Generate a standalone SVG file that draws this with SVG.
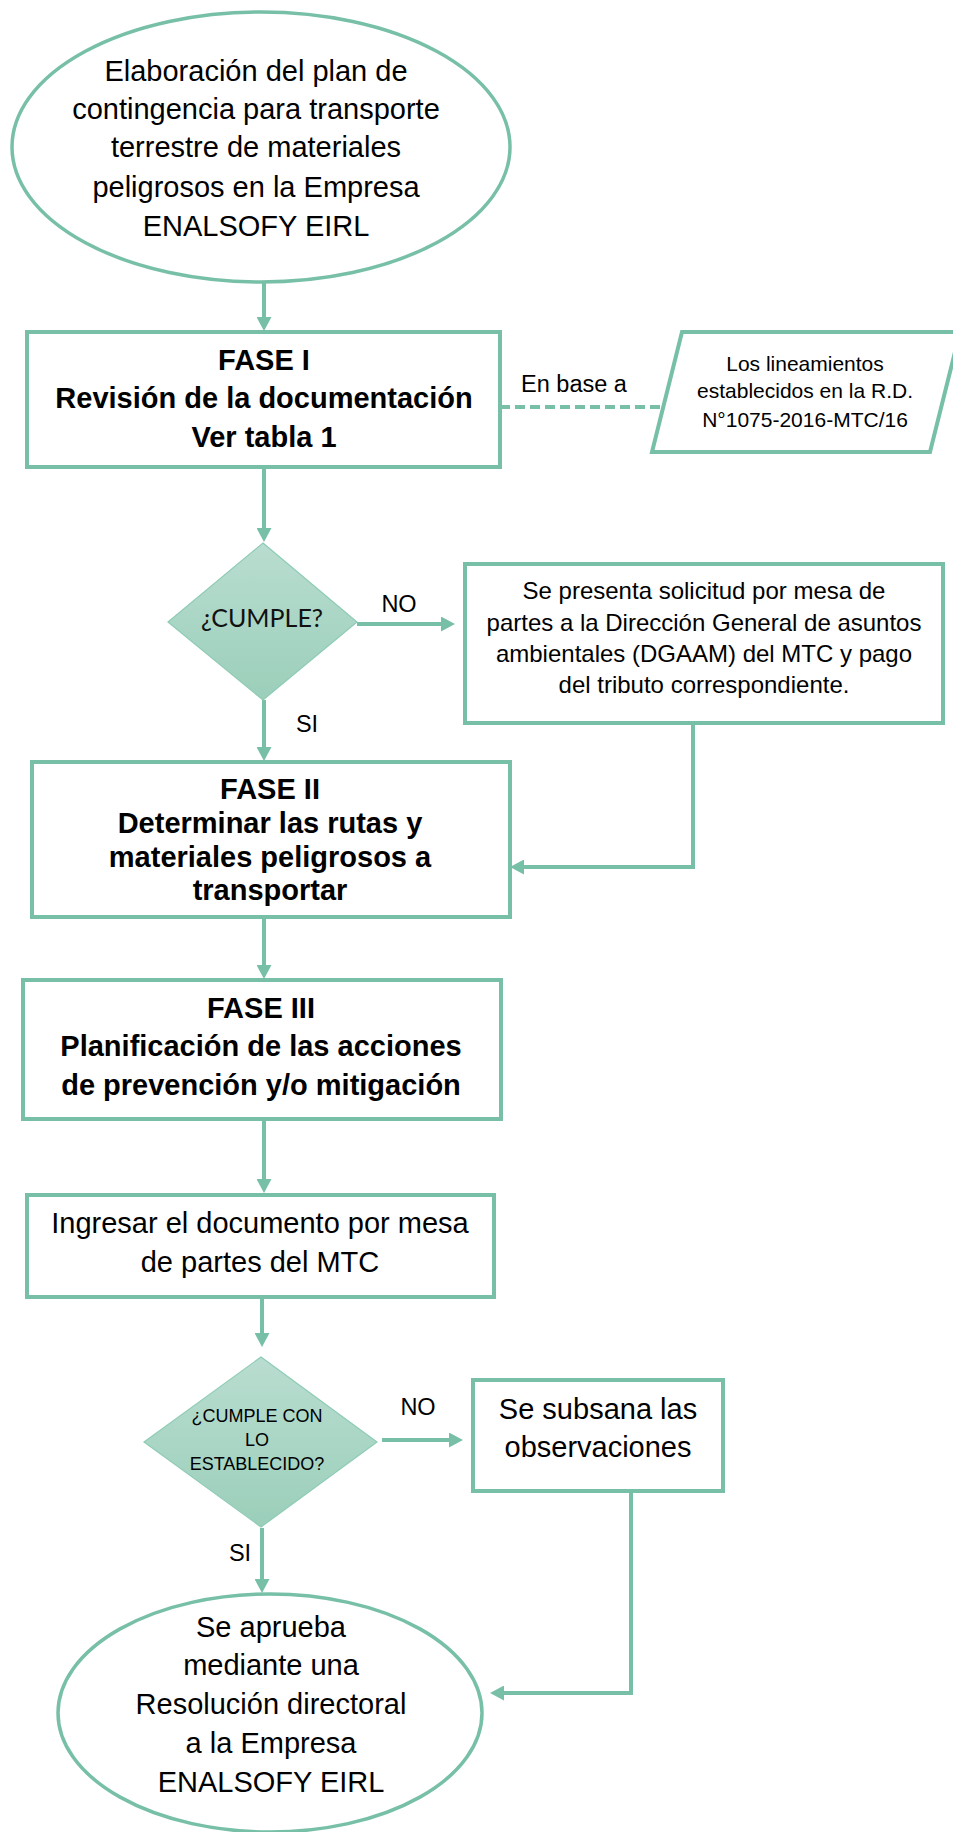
<svg xmlns="http://www.w3.org/2000/svg" width="953" height="1832" viewBox="0 0 953 1832">
<style>
.shape{fill:#ffffff;stroke:#77c0a7;stroke-width:4}
.ell{fill:#ffffff;stroke:#77c0a7;stroke-width:3.5}
.dia{fill:url(#dg);stroke:#8ecbb5;stroke-width:1.2}
.conn{fill:none;stroke:#77c0a7;stroke-width:4}
.dash{fill:none;stroke:#77c0a7;stroke-width:4;stroke-dasharray:10 5}
.t{font-family:"Liberation Sans",Arial,sans-serif;fill:#000;text-anchor:middle}
.r29{font-size:29px}
.b29{font-size:29px;font-weight:bold}
.r24{font-size:24px}
.r21{font-size:21px}
.lab{font-size:23.5px}
.c{font-family:Lato,"Noto Sans",sans-serif;font-size:25px;fill:#111;text-anchor:middle}
.s18{font-size:18px}
</style>
<defs>
<linearGradient id="dg" x1="0" y1="0" x2="0" y2="1">
<stop offset="0" stop-color="#b9ddd0"/>
<stop offset="1" stop-color="#9bcfba"/>
</linearGradient>
<marker id="ah" markerUnits="userSpaceOnUse" markerWidth="14" markerHeight="15" refX="0" refY="7.5" orient="auto">
<path d="M0,0 L14,7.5 L0,15 z" fill="#77c0a7"/>
</marker>
</defs>
<rect width="953" height="1832" fill="#ffffff"/>

<g id="connectors">
<line class="conn" x1="264" y1="283" x2="264" y2="317" marker-end="url(#ah)"/>
<line class="conn" x1="264" y1="467" x2="264" y2="528" marker-end="url(#ah)"/>
<line class="dash" x1="500" y1="407" x2="663" y2="407"/>
<line class="conn" x1="264" y1="700" x2="264" y2="747" marker-end="url(#ah)"/>
<line class="conn" x1="357" y1="624" x2="441" y2="624" marker-end="url(#ah)"/>
<polyline class="conn" points="693,723 693,867 524,867" marker-end="url(#ah)"/>
<line class="conn" x1="264" y1="917" x2="264" y2="965" marker-end="url(#ah)"/>
<line class="conn" x1="264" y1="1119" x2="264" y2="1179" marker-end="url(#ah)"/>
<line class="conn" x1="262" y1="1297" x2="262" y2="1333" marker-end="url(#ah)"/>
<line class="conn" x1="382" y1="1440" x2="449" y2="1440" marker-end="url(#ah)"/>
<line class="conn" x1="262" y1="1528" x2="262" y2="1579" marker-end="url(#ah)"/>
<polyline class="conn" points="631,1491 631,1693 504,1693" marker-end="url(#ah)"/>
<text class="t lab" x="574" y="392">En base a</text>
<text class="t lab" x="399" y="612">NO</text>
<text class="t lab" x="307" y="732">SI</text>
<text class="t lab" x="418" y="1415">NO</text>
<text class="t lab" x="240" y="1561">SI</text>
</g>

<g id="start">
<ellipse class="ell" cx="261" cy="147" rx="249" ry="135"/>
<text class="t r29" x="256" y="81">Elaboración del plan de</text>
<text class="t r29" x="256" y="119">contingencia para transporte</text>
<text class="t r29" x="256" y="157">terrestre de materiales</text>
<text class="t r29" x="256" y="197">peligrosos en la Empresa</text>
<text class="t r29" x="256" y="236">ENALSOFY EIRL</text>
</g>

<g id="fase1">
<rect class="shape" x="27" y="332" width="473" height="135"/>
<text class="t b29" x="264" y="370">FASE I</text>
<text class="t b29" x="264" y="408">Revisión de la documentación</text>
<text class="t b29" x="264" y="447">Ver tabla 1</text>
</g>

<g id="lineamientos">
<polygon class="shape" points="682,332 960,332 930,452 652,452"/>
<text class="t r21" x="805" y="371">Los lineamientos</text>
<text class="t r21" x="805" y="398">establecidos en la R.D.</text>
<text class="t r21" x="805" y="427">N°1075-2016-MTC/16</text>
</g>

<g id="cumple1">
<polygon class="dia" points="263,543 357,622 263,700 168,622"/>
<text class="c" x="262" y="627">¿CUMPLE?</text>
</g>

<g id="solicitud">
<rect class="shape" x="465" y="564" width="478" height="159"/>
<text class="t r24" x="704" y="599">Se presenta solicitud por mesa de</text>
<text class="t r24" x="704" y="631">partes a la Dirección General de asuntos</text>
<text class="t r24" x="704" y="662">ambientales (DGAAM) del MTC y pago</text>
<text class="t r24" x="704" y="693">del tributo correspondiente.</text>
</g>

<g id="fase2">
<rect class="shape" x="32" y="762" width="478" height="155"/>
<text class="t b29" x="270" y="799">FASE II</text>
<text class="t b29" x="270" y="833">Determinar las rutas y</text>
<text class="t b29" x="270" y="867">materiales peligrosos a</text>
<text class="t b29" x="270" y="900">transportar</text>
</g>

<g id="fase3">
<rect class="shape" x="23" y="980" width="478" height="139"/>
<text class="t b29" x="261" y="1018">FASE III</text>
<text class="t b29" x="261" y="1056">Planificación de las acciones</text>
<text class="t b29" x="261" y="1095">de prevención y/o mitigación</text>
</g>

<g id="ingresar">
<rect class="shape" x="27" y="1195" width="467" height="102"/>
<text class="t r29" x="260" y="1233">Ingresar el documento por mesa</text>
<text class="t r29" x="260" y="1272">de partes del MTC</text>
</g>

<g id="cumple2">
<polygon class="dia" points="261,1357 377,1442 261,1527 144,1442"/>
<text class="t s18" x="257" y="1422">¿CUMPLE CON</text>
<text class="t s18" x="257" y="1446">LO</text>
<text class="t s18" x="257" y="1470">ESTABLECIDO?</text>
</g>

<g id="subsana">
<rect class="shape" x="473" y="1380" width="250" height="111"/>
<text class="t r29" x="598" y="1419">Se subsana las</text>
<text class="t r29" x="598" y="1457">observaciones</text>
</g>

<g id="end">
<ellipse class="ell" cx="270" cy="1713" rx="212" ry="119"/>
<text class="t r29" x="271" y="1637">Se aprueba</text>
<text class="t r29" x="271" y="1675">mediante una</text>
<text class="t r29" x="271" y="1714">Resolución directoral</text>
<text class="t r29" x="271" y="1753">a la Empresa</text>
<text class="t r29" x="271" y="1792">ENALSOFY EIRL</text>
</g>
</svg>
